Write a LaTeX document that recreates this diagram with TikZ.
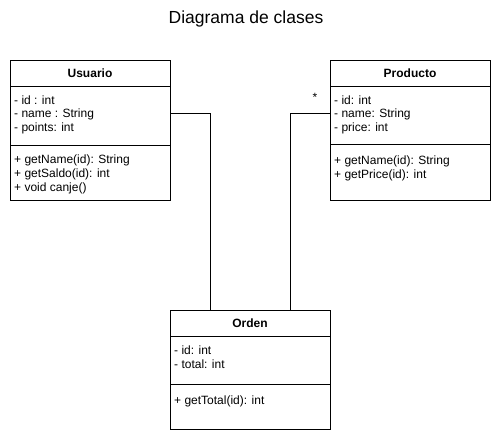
\documentclass[tikz,border=0pt]{standalone}
\usepackage{fontspec}
\setmainfont{Liberation Sans}
\begin{document}
\begin{tikzpicture}[x=1pt,y=-1pt,
  box/.style={draw=black,line width=0.8pt,fill=white,inner sep=0pt,outer sep=0pt,anchor=north west},
  sep/.style={draw=black,line width=0.8pt},
  hdr/.style={font=\fontsize{12}{14}\selectfont\bfseries,inner sep=0pt},
  attr/.style={font=\fontsize{12}{14}\selectfont,inner sep=0pt,anchor=west},
  conn/.style={draw=black,line width=0.8pt},
  ttl/.style={font=\fontsize{17.5}{20}\selectfont,inner sep=0pt}]
\useasboundingbox (0,0) rectangle (499,440);
\node[ttl] (title) at (246,19) {Diagrama de clases};
% Usuario
\node[box,minimum width=160pt,minimum height=140pt] (usr) at (10,60) {};
\draw[sep] (10,86) -- (170,86);
\draw[sep] (10,145) -- (170,145);
\node[hdr] (usrh) at (90,73) {Usuario};
\node[attr] (u1) at (14,100) {- id : int};
\node[attr] (u2) at (14,114) {- name : String};
\node[attr] (u3) at (14,128) {- points: int};
\node[attr] (u4) at (14,160) {+ getName(id): String};
\node[attr] (u5) at (14,174) {+ getSaldo(id): int};
\node[attr] (u6) at (14,188) {+ void canje()};
% Producto
\node[box,minimum width=160pt,minimum height=140pt] (prd) at (330,60) {};
\draw[sep] (330,86) -- (490,86);
\draw[sep] (330,144) -- (490,144);
\node[hdr] (prdh) at (410,73) {Producto};
\node[attr] (p1) at (334,100) {- id: int};
\node[attr] (p2) at (334,114) {- name: String};
\node[attr] (p3) at (334,128) {- price: int};
\node[attr] (p4) at (334,161) {+ getName(id): String};
\node[attr] (p5) at (334,175) {+ getPrice(id): int};
% Orden
\node[box,minimum width=160pt,minimum height=119pt] (ord) at (170,310) {};
\draw[sep] (170,336) -- (330,336);
\draw[sep] (170,384) -- (330,384);
\node[hdr] (ordh) at (250,323) {Orden};
\node[attr] (o1) at (174,350) {- id: int};
\node[attr] (o2) at (174,364) {- total: int};
\node[attr] (o3) at (174,401) {+ getTotal(id): int};
% connectors
\coordinate (ua) at (170,113);
\coordinate (pa) at (330,113);
\coordinate (oa) at (210,310);
\coordinate (ob) at (290,310);
\draw[conn] (ua) -| (oa);
\draw[conn] (pa) -| (ob);
\node[font=\fontsize{12}{14}\selectfont,inner sep=0pt] (star) at (315,97) {*};
\end{tikzpicture}
\end{document}
